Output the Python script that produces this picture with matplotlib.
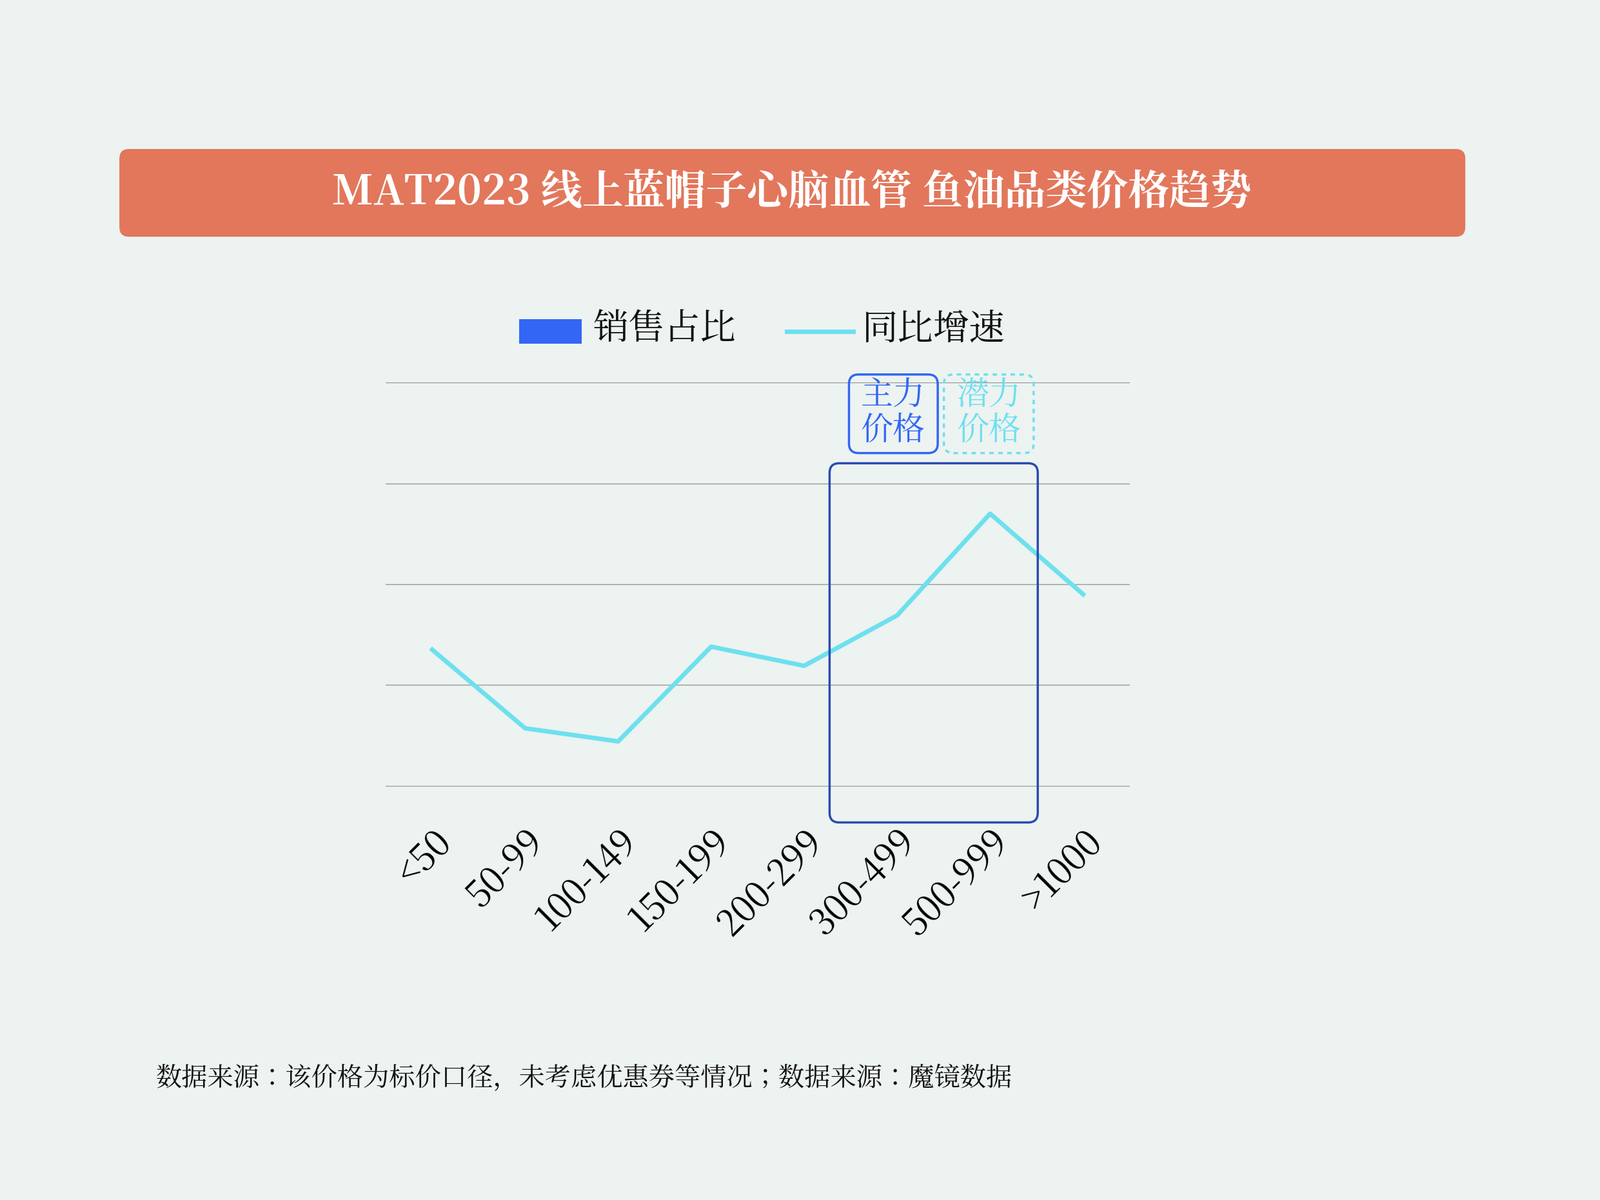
import matplotlib.pyplot as plt
from matplotlib import font_manager
from matplotlib.patches import FancyBboxPatch, Rectangle
from matplotlib.lines import Line2D

# pick a CJK font file directly in case the family name doesn't resolve
cjk = [f for f in font_manager.fontManager.ttflist if 'CJK' in f.name and 'SC' in f.name]
if not cjk:
    cjk = [f for f in font_manager.fontManager.ttflist if 'CJK' in f.name]
if cjk:
    plt.rcParams['font.family'] = cjk[0].name
    plt.rcParams['font.sans-serif'] = [cjk[0].name, 'DejaVu Sans']

categories = ['<50', '50-99', '100-149', '150-199', '200-299', '300-499', '500-999', '>1000']
growth = [1.35, 0.57, 0.44, 1.38, 1.19, 1.69, 2.70, 1.90]

W, H = 1568, 1176
bg = '#ecf3f1'
line_c = '#6ee0ee'
box_c = '#2b4bb0'

fig = plt.figure(figsize=(24.81, 18.61), dpi=100, facecolor=bg)

def fx(x): return x / W
def fy(y): return 1 - y / H

def rbox(x0, y0, x1, y1, **kw):
    p = FancyBboxPatch((fx(x0), fy(y1)), fx(x1) - fx(x0), fy(y0) - fy(y1),
                       boxstyle='round,pad=0,rounding_size=0.006',
                       mutation_aspect=2481 / 1861, transform=fig.transFigure, **kw)
    fig.add_artist(p)

# title banner
rbox(117, 146, 1436, 232, facecolor='#e2775c', edgecolor='none')
fig.text(fx(776), fy(189), 'MAT2023 线上蓝帽子心脑血管 鱼油品类价格趋势',
         color='white', fontsize=46, fontweight='bold', ha='center', va='center')

ax = fig.add_axes([fx(378), fy(771), fx(1107) - fx(378), fy(375) - fy(771)])
ax.set_facecolor(bg)
x = range(len(categories))
ax.plot(x, growth, color=line_c, lw=5)
ax.set_xlim(-0.5, len(categories) - 0.5)
ax.set_ylim(-0.01, 4)
ax.set_yticks([0, 1, 2, 3, 4])
ax.yaxis.grid(True, color='#999999', lw=1)
ax.tick_params(axis='y', length=0, labelleft=False)
ax.set_xticks(list(x))
ax.set_xticklabels(categories, rotation=45, ha='right', rotation_mode='anchor', fontsize=40)
ax.tick_params(axis='x', length=0, pad=40)
for s in ax.spines.values():
    s.set_visible(False)

# highlight boxes
rbox(813, 454, 1017, 806, facecolor='none', edgecolor=box_c, lw=2.5)
rbox(832, 367, 919, 444, facecolor='none', edgecolor='#3366f5', lw=2.5)
fig.text(fx(875), fy(405), '主力\n价格', color='#3366f5', fontsize=36,
         ha='center', va='center', linespacing=1.0)
rbox(925, 367, 1013, 444, facecolor='none', edgecolor=line_c, lw=2.5, linestyle=(0, (2, 2)))
fig.text(fx(969), fy(405), '潜力\n价格', color=line_c, fontsize=36,
         ha='center', va='center', linespacing=1.0)

# legend
fig.add_artist(Rectangle((fx(509), fy(337)), fx(570) - fx(509), fy(313) - fy(337),
                         transform=fig.transFigure, facecolor='#3366f5', edgecolor='none'))
fig.text(fx(581), fy(323), '销售占比', fontsize=40, va='center', color='#111111')
fig.add_artist(Line2D([fx(771), fx(836)], [fy(325), fy(325)], transform=fig.transFigure,
                      color=line_c, lw=5))
fig.text(fx(845), fy(323), '同比增速', fontsize=40, va='center', color='#111111')

fig.text(fx(153), fy(1057), '数据来源：该价格为标价口径，未考虑优惠券等情况；数据来源：魔镜数据',
         fontsize=29, va='center', color='#111111')

fig.savefig('out.png', dpi=100, facecolor=bg)
